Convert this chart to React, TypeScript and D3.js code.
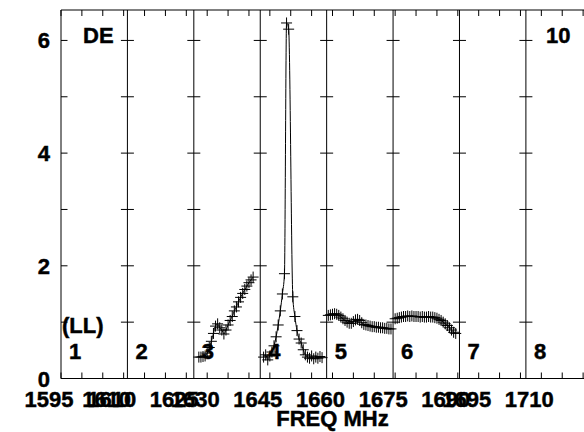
import React from "react";
import * as d3 from "d3";

// ---------- data ----------
const PANEL_NAMES = ["1", "2", "3", "4", "5", "6", "7", "8"];
const PANEL_STARTS = [1595, 1610.9, 1626.8, 1642.7, 1658.6, 1674.5, 1690.4, 1706.3];

const X_LABEL_VALUES = [1595, 1608.8, 1610, 1625, 1630, 1645, 1660, 1675, 1690, 1695, 1710];
const X_LABEL_TEXT = ["1595", "1610", "1610", "1625", "1630", "1645", "1660", "1675", "1690", "1695", "1710"];
const Y_LABELS = [0, 2, 4, 6];
const Y_PANEL_TICKS = [1, 2, 3, 4, 5, 6];

const P3_FREQ = [1628.0, 1628.5, 1629.0, 1629.5, 1630.0, 1630.5, 1631.0, 1631.5, 1632.0, 1632.5, 1633.0, 1633.5, 1634.0, 1634.5, 1635.0, 1635.5, 1636.0, 1636.5, 1637.0, 1637.5, 1638.0, 1638.5, 1639.0, 1639.5, 1640.0, 1640.5, 1641.0];
const P3_VAL = [0.38, 0.38, 0.39, 0.4, 0.45, 0.55, 0.66, 0.8, 0.93, 0.97, 0.9, 0.86, 0.79, 0.86, 0.95, 1.03, 1.1, 1.2, 1.27, 1.36, 1.44, 1.51, 1.58, 1.64, 1.7, 1.75, 1.8];

const P4_FREQ = [1643.5, 1644.0, 1644.5, 1645.0, 1645.5, 1646.0, 1646.5, 1647.0, 1647.5, 1648.0, 1648.5, 1649.0, 1649.5, 1650.5, 1651.0, 1651.5, 1652.0, 1652.5, 1653.0, 1653.5, 1654.0, 1654.5, 1655.0, 1655.5, 1656.0, 1656.5, 1657.0, 1657.5];
const P4_VAL = [0.38, 0.42, 0.33, 0.4, 0.47, 0.58, 0.74, 0.95, 1.2, 1.5, 1.86, 6.31, 6.2, 1.45, 1.1, 0.85, 0.7, 0.63, 0.51, 0.42, 0.38, 0.36, 0.4, 0.35, 0.38, 0.36, 0.39, 0.37];

const P5_FREQ = [1659.0, 1659.5, 1660.0, 1660.5, 1661.0, 1661.5, 1662.0, 1662.5, 1663.0, 1663.5, 1664.0, 1664.5, 1665.0, 1665.5, 1666.0, 1666.5, 1667.0, 1667.5, 1668.0, 1668.5, 1669.0, 1669.5, 1670.0, 1670.5, 1671.0, 1671.5, 1672.0, 1672.5, 1673.0, 1673.5, 1674.0];
const P5_VAL = [1.12, 1.13, 1.14, 1.15, 1.14, 1.12, 1.09, 1.06, 1.03, 1.0, 0.98, 0.98, 1.01, 1.04, 1.05, 1.03, 0.99, 0.96, 0.95, 0.94, 0.93, 0.92, 0.92, 0.91, 0.91, 0.9, 0.9, 0.89, 0.89, 0.88, 0.88];

const P6_FREQ = [1675.0, 1675.5, 1676.0, 1676.5, 1677.0, 1677.5, 1678.0, 1678.5, 1679.0, 1679.5, 1680.0, 1680.5, 1681.0, 1681.5, 1682.0, 1682.5, 1683.0, 1683.5, 1684.0, 1684.5, 1685.0, 1685.5, 1686.0, 1686.5, 1687.0, 1687.5, 1688.0, 1688.5, 1689.0, 1689.5];
const P6_VAL = [1.06, 1.07, 1.08, 1.09, 1.1, 1.1, 1.11, 1.1, 1.11, 1.1, 1.1, 1.1, 1.09, 1.1, 1.09, 1.09, 1.1, 1.09, 1.09, 1.08, 1.07, 1.05, 1.03, 1.0, 0.97, 0.94, 0.9, 0.86, 0.82, 0.8];

const SERIES = [
  { f: P3_FREQ, v: P3_VAL },
  { f: P4_FREQ, v: P4_VAL },
  { f: P5_FREQ, v: P5_VAL },
  { f: P6_FREQ, v: P6_VAL },
];

// ---------- layout ----------
const W = 584;
const H = 432;
const FONT = "'Liberation Sans', Arial, Helvetica, sans-serif";
const FS = 22;

export default function App() {
  const x = d3.scaleLinear().domain([1595, 1725]).range([61, 604]);
  const y = d3.scaleLinear().domain([0, 6.54]).range([378.5, 10]);
  const top = y.range()[1];
  const bottom = y.range()[0];
  const left = x.range()[0];
  const freqTicks = d3.range(1595, 1726, 5);

  const line = d3
    .line<[number, number]>()
    .x((d) => x(d[0]))
    .y((d) => y(d[1]))
    .curve(d3.curveMonotoneX);

  const textProps = { fill: "#000", stroke: "#000", strokeWidth: 0.45 };

  return (
    <svg
      width={W}
      height={H}
      style={{ position: "absolute", left: 0, top: 0, display: "block", background: "#fff" }}
      fontFamily={FONT}
      fontWeight="bold"
      fontSize={FS}
    >
      <rect x={0} y={0} width={W} height={H} fill="#fff" />
      {/* top and bottom axis lines */}
      <line x1={left} x2={W + 20} y1={top} y2={top} stroke="#000" strokeWidth={1} />
      <line x1={left} x2={W + 20} y1={bottom} y2={bottom} stroke="#000" strokeWidth={1} />
      {freqTicks.map((f) => (
        <g key={"t" + f}>
          <line x1={x(f)} x2={x(f)} y1={top} y2={top + 6} stroke="#000" />
          <line x1={x(f)} x2={x(f)} y1={bottom} y2={bottom - 6} stroke="#000" />
        </g>
      ))}
      {/* panel boundaries */}
      {PANEL_STARTS.map((f, i) => (
        <g key={"p" + i}>
          <line x1={x(f)} x2={x(f)} y1={top} y2={bottom} stroke="#000" />
          {Y_PANEL_TICKS.map((v) => (
            <line
              key={v}
              x1={i === 0 ? x(f) : x(f) - 6.5}
              x2={x(f) + 6.5}
              y1={y(v)}
              y2={y(v)}
              stroke="#000"
            />
          ))}
          <text {...textProps} x={x(f) + 8} y={y(0) - 20} textAnchor="start">
            {PANEL_NAMES[i]}
          </text>
        </g>
      ))}
      {/* y labels */}
      {Y_LABELS.map((v) => (
        <text {...textProps} key={"y" + v} x={left - 11} y={y(v) + 8} textAnchor="end">
          {v}
        </text>
      ))}
      {/* x labels */}
      {X_LABEL_VALUES.map((f, i) => (
        <text {...textProps} key={"x" + i} x={x(f) - 12} y={bottom + 28} textAnchor="middle">
          {X_LABEL_TEXT[i]}
        </text>
      ))}
      <text {...textProps} x={(x.range()[0] + x.range()[1]) / 2} y={bottom + 47} textAnchor="middle">
        FREQ MHz
      </text>
      {/* annotations */}
      <text {...textProps} x={left + 22} y={43}>DE</text>
      <text {...textProps} x={left + 485} y={43}>10</text>
      <text {...textProps} x={left + 1} y={333}>(LL)</text>
      {/* data */}
      {SERIES.map((s, si) => {
        const pts: [number, number][] = s.f.map((f, i) => [f, s.v[i]]);
        return (
          <g key={"s" + si}>
            <path d={line(pts) || ""} fill="none" stroke="#000" strokeWidth={1} />
            {pts.map((p, i) => (
              <path
                key={i}
                transform={`translate(${x(p[0])},${y(p[1])})`}
                d="M-5.5,0H5.5M0,-5.5V5.5"
                stroke="#000"
                strokeWidth={1}
                fill="none"
              />
            ))}
          </g>
        );
      })}
    </svg>
  );
}
